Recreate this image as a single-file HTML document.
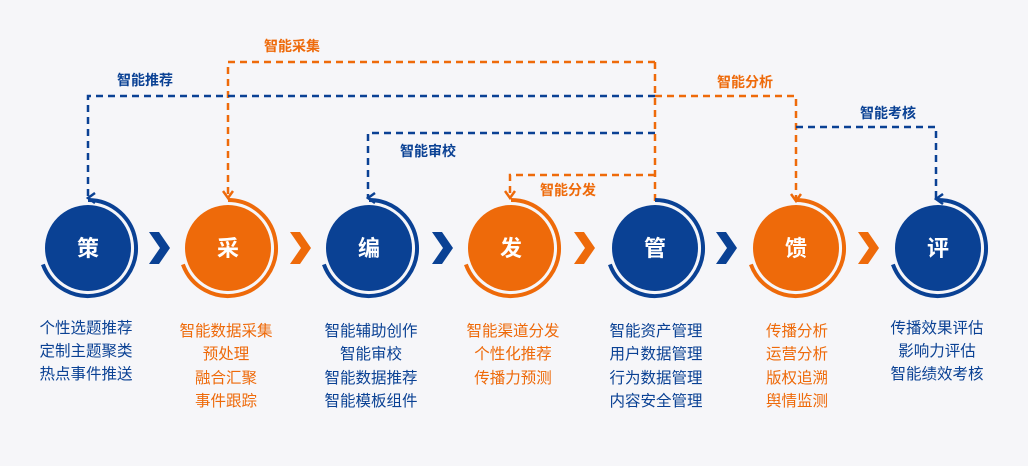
<!DOCTYPE html>
<html><head><meta charset="utf-8"><style>
html,body{margin:0;padding:0;background:#f6f6f9;}
svg{display:block;font-family:"Liberation Sans","Noto Sans CJK SC",sans-serif;}
</style></head><body>
<svg width="1028" height="466" viewBox="0 0 1028 466" xmlns="http://www.w3.org/2000/svg">
<rect width="1028" height="466" fill="#f6f6f9"/>
<defs>
<marker id="ab" markerWidth="12" markerHeight="12" refX="6" refY="10" orient="auto-start-reverse" markerUnits="userSpaceOnUse" viewBox="0 0 12 12"><path d="M1,3 L6,10 L11,3" fill="none" stroke="#0a4194" stroke-width="2.5"/></marker>
<marker id="ao" markerWidth="12" markerHeight="12" refX="6" refY="10" markerUnits="userSpaceOnUse" viewBox="0 0 12 12"><path d="M1,3 L6,10 L11,3" fill="none" stroke="#ee6a0a" stroke-width="2.5"/></marker>
</defs>
<g fill="none" stroke-width="2.5" stroke-dasharray="7,5">
<path d="M655,62 H228 V198" stroke="#ee6a0a" marker-end="url(#ao)"/>
<path d="M655,96 H88 V198" stroke="#0a4194" marker-end="url(#ab)"/>
<path d="M655,133 H368 V198" stroke="#0a4194" marker-end="url(#ab)"/>
<path d="M655,175 H510 V198" stroke="#ee6a0a" marker-end="url(#ao)"/>
<path d="M655,62 V202" stroke="#ee6a0a"/>
<path d="M655,96 H796 V201" stroke="#ee6a0a" marker-end="url(#ao)"/>
<path d="M796,127 H936 V199" stroke="#0a4194" marker-end="url(#ab)"/>
</g>
<g font-size="14" font-weight="bold" text-anchor="middle">
<text x="292" y="51" fill="#ee6a0a">智能采集</text>
<text x="145" y="85" fill="#0a4194">智能推荐</text>
<text x="745" y="87" fill="#ee6a0a">智能分析</text>
<text x="888" y="118" fill="#0a4194">智能考核</text>
<text x="428" y="156" fill="#0a4194">智能审校</text>
<text x="568" y="195" fill="#ee6a0a">智能分发</text>
</g>
<g id="nodes">
<g transform="translate(88,248)"><circle r="43" fill="#0a4194"/><path d="M0,-48 A48,48 0 1 1 -45.1,16.4" fill="none" stroke="#0a4194" stroke-width="4"/><text y="8" font-size="22" font-weight="bold" fill="#fff" text-anchor="middle">策</text></g>
<g transform="translate(228,248)"><circle r="43" fill="#ee6a0a"/><path d="M0,-48 A48,48 0 1 1 -45.1,16.4" fill="none" stroke="#ee6a0a" stroke-width="4"/><text y="8" font-size="22" font-weight="bold" fill="#fff" text-anchor="middle">采</text></g>
<g transform="translate(369,248)"><circle r="43" fill="#0a4194"/><path d="M0,-48 A48,48 0 1 1 -45.1,16.4" fill="none" stroke="#0a4194" stroke-width="4"/><text y="8" font-size="22" font-weight="bold" fill="#fff" text-anchor="middle">编</text></g>
<g transform="translate(511,248)"><circle r="43" fill="#ee6a0a"/><path d="M0,-48 A48,48 0 1 1 -45.1,16.4" fill="none" stroke="#ee6a0a" stroke-width="4"/><text y="8" font-size="22" font-weight="bold" fill="#fff" text-anchor="middle">发</text></g>
<g transform="translate(655,248)"><circle r="43" fill="#0a4194"/><path d="M0,-48 A48,48 0 1 1 -45.1,16.4" fill="none" stroke="#0a4194" stroke-width="4"/><text y="8" font-size="22" font-weight="bold" fill="#fff" text-anchor="middle">管</text></g>
<g transform="translate(796,248)"><circle r="43" fill="#ee6a0a"/><path d="M0,-48 A48,48 0 1 1 -45.1,16.4" fill="none" stroke="#ee6a0a" stroke-width="4"/><text y="8" font-size="22" font-weight="bold" fill="#fff" text-anchor="middle">馈</text></g>
<g transform="translate(938,248)"><circle r="43" fill="#0a4194"/><path d="M0,-48 A48,48 0 1 1 -45.1,16.4" fill="none" stroke="#0a4194" stroke-width="4"/><text y="8" font-size="22" font-weight="bold" fill="#fff" text-anchor="middle">评</text></g>
</g>
<g>
<path d="M149,232 h10 l11,16 l-11,16 h-10 l11,-16 z" fill="#0a4194"/>
<path d="M290,232 h10 l11,16 l-11,16 h-10 l11,-16 z" fill="#ee6a0a"/>
<path d="M432,232 h10 l11,16 l-11,16 h-10 l11,-16 z" fill="#0a4194"/>
<path d="M574,232 h10 l11,16 l-11,16 h-10 l11,-16 z" fill="#ee6a0a"/>
<path d="M716,232 h10 l11,16 l-11,16 h-10 l11,-16 z" fill="#0a4194"/>
<path d="M858,232 h10 l11,16 l-11,16 h-10 l11,-16 z" fill="#ee6a0a"/>
</g>
<g font-size="15.5" text-anchor="middle">
<g fill="#0a4194"><text x="86" y="333">个性选题推荐</text><text x="86" y="356">定制主题聚类</text><text x="86" y="379">热点事件推送</text></g>
<g fill="#ee6a0a"><text x="226" y="336">智能数据采集</text><text x="226" y="359">预处理</text><text x="226" y="383">融合汇聚</text><text x="226" y="406">事件跟踪</text></g>
<g fill="#0a4194"><text x="371" y="336">智能辅助创作</text><text x="371" y="359">智能审校</text><text x="371" y="383">智能数据推荐</text><text x="371" y="406">智能模板组件</text></g>
<g fill="#ee6a0a"><text x="513" y="336">智能渠道分发</text><text x="513" y="359">个性化推荐</text><text x="513" y="383">传播力预测</text></g>
<g fill="#0a4194"><text x="656" y="336">智能资产管理</text><text x="656" y="359">用户数据管理</text><text x="656" y="383">行为数据管理</text><text x="656" y="406">内容安全管理</text></g>
<g fill="#ee6a0a"><text x="797" y="336">传播分析</text><text x="797" y="359">运营分析</text><text x="797" y="383">版权追溯</text><text x="797" y="406">舆情监测</text></g>
<g fill="#0a4194"><text x="937" y="333">传播效果评估</text><text x="937" y="356">影响力评估</text><text x="937" y="379">智能绩效考核</text></g>
</g>
</svg>
</body></html>
